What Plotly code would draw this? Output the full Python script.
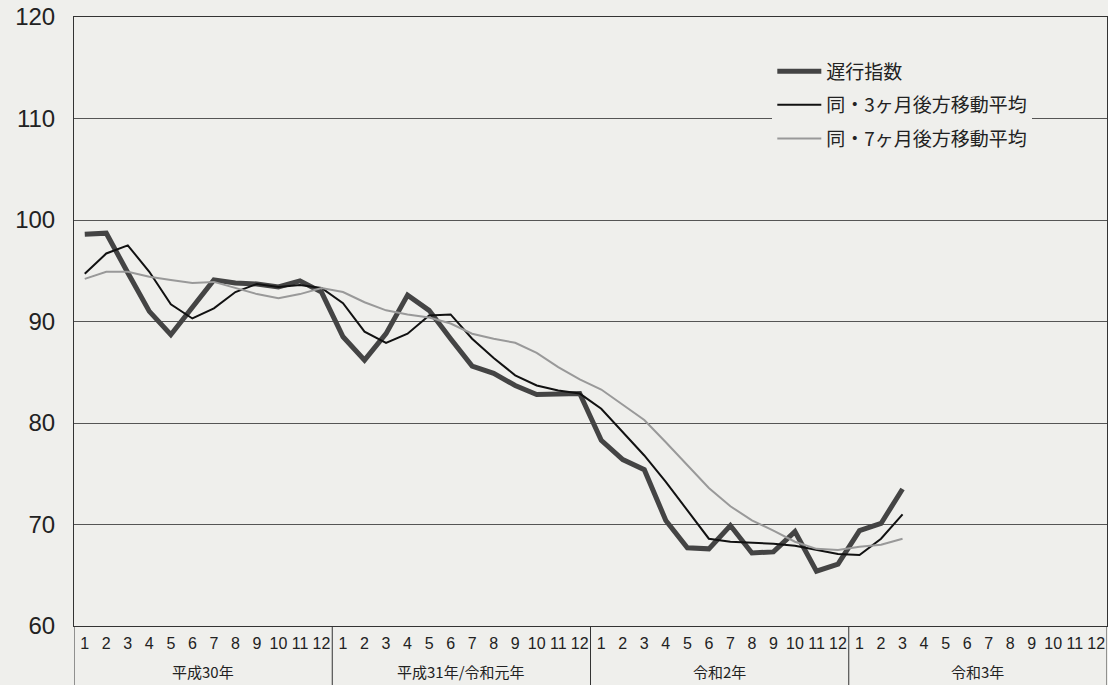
import plotly.graph_objects as go

# ---- data ----
months = [str(m) for m in range(1, 13)] * 4
years = ["平成30年", "平成31年/令和元年", "令和2年", "令和3年"]
y_ticks = [60, 70, 80, 90, 100, 110, 120]

lagging = [98.6, 98.7, 94.8, 91.0, 88.7, 91.4, 94.1, 93.8, 93.7, 93.4, 94.0, 92.9,
           88.5, 86.2, 88.8, 92.6, 91.1, 88.3, 85.6, 84.9, 83.7, 82.8, 82.9, 82.9,
           78.3, 76.4, 75.4, 70.4, 67.7, 67.6, 69.9, 67.2, 67.3, 69.3, 65.4, 66.1,
           69.4, 70.1, 73.5]
ma3 = [94.7, 96.7, 97.5, 94.9, 91.7, 90.3, 91.3, 92.9, 93.7, 93.4, 93.6, 93.3,
       91.8, 89.0, 87.9, 88.8, 90.6, 90.7, 88.3, 86.4, 84.7, 83.7, 83.2, 82.9,
       81.4, 79.1, 76.8, 74.2, 71.4, 68.6, 68.3, 68.2, 68.1, 67.9, 67.5, 67.1,
       67.0, 68.6, 71.0]
ma7 = [94.2, 94.9, 94.9, 94.4, 94.1, 93.8, 93.9, 93.3, 92.7, 92.3, 92.7, 93.3,
       92.9, 91.9, 91.1, 90.7, 90.4, 89.8, 88.8, 88.3, 87.9, 86.9, 85.5, 84.3,
       83.3, 81.8, 80.3, 78.1, 75.8, 73.6, 71.8, 70.4, 69.4, 68.3, 67.6, 67.5,
       67.8, 68.0, 68.6]

names = ["遅行指数", "同・3ヶ月後方移動平均", "同・7ヶ月後方移動平均"]

BG = "#efefec"
x_all = list(range(len(months)))

fig = go.Figure()
fig.add_trace(go.Scatter(x=x_all[:len(lagging)], y=lagging, mode="lines", name=names[0],
                         line=dict(color="#444444", width=5), legendgroup="a"))
fig.add_trace(go.Scatter(x=x_all[:len(ma3)], y=ma3, mode="lines", name=names[1],
                         line=dict(color="#111111", width=2), legendgroup="b"))
fig.add_trace(go.Scatter(x=x_all[:len(ma7)], y=ma7, mode="lines", name=names[2],
                         line=dict(color="#999999", width=2), legendgroup="c"))

n = len(months)
shapes = []
for i in range(len(years) + 1):
    xs = -0.5 + 12 * i
    shapes.append(dict(type="line", xref="x", yref="paper", x0=xs, x1=xs, y0=0, y1=-0.12,
                       line=dict(color="#333333", width=1)))

annotations = []
for i, yr in enumerate(years):
    annotations.append(dict(x=12 * i + 5.5, y=-0.075, xref="x", yref="paper", text=yr, showarrow=False,
                            yanchor="middle", font=dict(family="Noto Sans CJK JP", size=15, color="#222222")))

fig.update_layout(
    width=1108, height=685,
    margin=dict(l=74, r=1, t=17, b=59),
    paper_bgcolor=BG, plot_bgcolor=BG,
    shapes=shapes, annotations=annotations,
    legend=dict(x=0.676, y=0.942, xanchor="left", yanchor="top", bgcolor=BG,
                font=dict(family="Noto Sans CJK JP", size=19, color="#222222"),
                tracegroupgap=6, borderwidth=0, itemwidth=44),
    showlegend=True,
)
fig.update_xaxes(range=[-0.5, n - 0.5], tickvals=x_all, ticktext=months, showgrid=False,
                 tickfont=dict(family="Liberation Sans", size=16, color="#222222"),
                 ticks="", ticklabelstandoff=3, showline=True, linecolor="#333333", linewidth=1,
                 mirror=True, zeroline=False, automargin=False)
fig.update_yaxes(range=[60, 120], tickvals=y_ticks, showgrid=True, gridcolor="#555555", gridwidth=1,
                 tickfont=dict(family="Liberation Sans", size=24, color="#222222"),
                 ticks="", ticklabelstandoff=13, showline=True, linecolor="#333333", linewidth=1,
                 mirror=True, zeroline=False, automargin=False)

fig.write_html("out.html", config={"displayModeBar": False},
               post_script="document.body.style.margin='0';document.body.style.overflow='hidden';")
